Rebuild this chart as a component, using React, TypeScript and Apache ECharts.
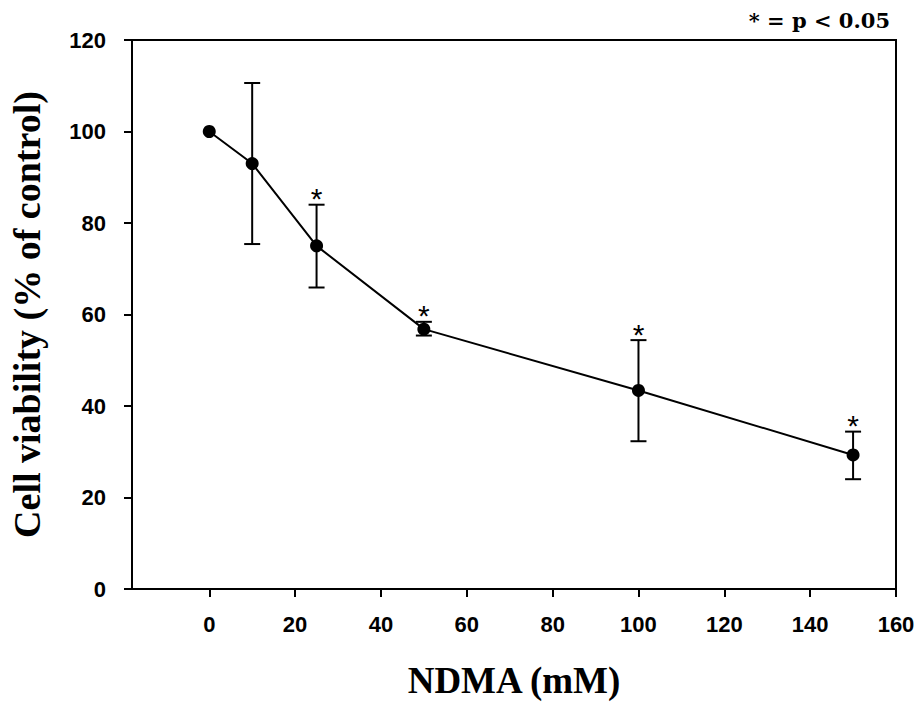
import React, { useEffect, useRef } from "react";
import * as echarts from "echarts";

const doses = [0, 10, 25, 50, 100, 150];
const viability = [100, 93, 75, 56.8, 43.4, 29.3];
const errLow = [100, 75.4, 65.9, 55.4, 32.3, 24.0];
const errHigh = [100, 110.6, 84.0, 58.4, 54.4, 34.4];
const significant = [false, false, true, true, true, true];
const xTicks = [0, 20, 40, 60, 80, 100, 120, 140, 160];
const yTicks = [0, 20, 40, 60, 80, 100, 120];

export default function App() {
  const ref = useRef<HTMLDivElement>(null);
  useEffect(() => {
    if (!ref.current) return;
    const chart = echarts.init(ref.current, null, { renderer: "svg" });
    const lineData = doses.map((d, i) => [d, viability[i]]);
    const errData = doses.map((d, i) => [d, errLow[i], errHigh[i], significant[i] ? 1 : 0]);
    const labelFont = { fontFamily: "Liberation Sans", fontWeight: "bold" as const, fontSize: 22, color: "#000" };
    chart.setOption({
      animation: false,
      backgroundColor: "#fff",
      grid: {
        left: 130,
        right: 27,
        top: 40,
        bottom: 115,
        show: true,
        borderColor: "#000",
        borderWidth: 2,
        backgroundColor: "transparent",
      },
      title: {
        text: "* = p < 0.05",
        right: 28,
        top: 5,
        textStyle: { fontFamily: "DejaVu Serif", fontWeight: "bold", fontSize: 21, color: "#000" },
      },
      xAxis: {
        type: "value",
        min: -18,
        max: 160,
        name: "NDMA (mM)",
        nameLocation: "middle",
        nameGap: 73,
        nameTextStyle: { fontFamily: "Liberation Serif", fontWeight: "bold", fontSize: 37, color: "#000" },
        axisLine: { show: true, onZero: false, lineStyle: { color: "#000", width: 2 } },
        axisTick: { show: true, inside: false, length: 8, lineStyle: { color: "#000", width: 2 }, customValues: xTicks },
        axisLabel: { ...labelFont, margin: 24, customValues: xTicks },
        splitLine: { show: false },
      },
      yAxis: {
        type: "value",
        min: 0,
        max: 120,
        interval: 20,
        name: "Cell viability (% of control)",
        nameLocation: "middle",
        nameGap: 86,
        nameTextStyle: { fontFamily: "Liberation Serif", fontWeight: "bold", fontSize: 38, color: "#000" },
        axisLine: { show: true, onZero: false, lineStyle: { color: "#000", width: 2 } },
        axisTick: { show: true, inside: false, length: 8, lineStyle: { color: "#000", width: 2 } },
        axisLabel: { ...labelFont, margin: 26, customValues: yTicks },
        splitLine: { show: false },
      },
      series: [
        {
          type: "custom",
          z: 2,
          data: errData,
          encode: { x: 0, y: [1, 2] },
          renderItem: (params: any, api: any) => {
            const x = api.value(0);
            const lo = api.coord([x, api.value(1)]);
            const hi = api.coord([x, api.value(2)]);
            const cap = 8;
            const children: any[] = [];
            if (api.value(2) !== api.value(1)) {
              const st = { stroke: "#000", lineWidth: 2 };
              children.push(
                { type: "line", shape: { x1: hi[0], y1: hi[1], x2: lo[0], y2: lo[1] }, style: st },
                { type: "line", shape: { x1: hi[0] - cap, y1: hi[1], x2: hi[0] + cap, y2: hi[1] }, style: st },
                { type: "line", shape: { x1: lo[0] - cap, y1: lo[1], x2: lo[0] + cap, y2: lo[1] }, style: st }
              );
            }
            if (api.value(3)) {
              children.push({
                type: "text",
                x: hi[0],
                y: hi[1] - 6,
                style: {
                  text: "*",
                  fontFamily: "Liberation Sans",
                  fontSize: 30,
                  fill: "#000",
                  align: "center",
                  verticalAlign: "middle",
                },
              });
            }
            return { type: "group", children };
          },
        },
        {
          type: "line",
          z: 3,
          data: lineData,
          symbol: "circle",
          symbolSize: 13,
          lineStyle: { color: "#000", width: 2 },
          itemStyle: { color: "#000" },
        },
      ],
    });
    return () => chart.dispose();
  }, []);
  return <div ref={ref} style={{ position: "fixed", left: 0, top: 0, width: 923, height: 704 }} />;
}
